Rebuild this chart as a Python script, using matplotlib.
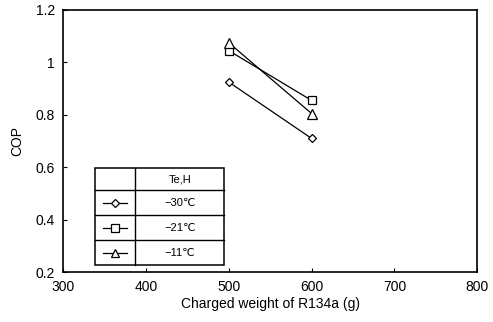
import matplotlib
matplotlib.use("Agg")
import matplotlib.pyplot as plt
from matplotlib.lines import Line2D
from matplotlib.patches import Rectangle

plt.rcParams['font.family'] = ['Liberation Sans', 'DejaVu Sans']

### charged refrigerant mass and measured COP
charge = [500, 600]
cop_m30 = [0.925, 0.71]
cop_m21 = [1.045, 0.855]
cop_m11 = [1.075, 0.805]

series_labels = ['\u221230\u2103', '\u221221\u2103', '\u221211\u2103']
series_markers = ['D', 's', '^']
series_sizes = [4.5, 6, 6.5]
x_ticks = [300, 400, 500, 600, 700, 800]
y_ticks = [0.2, 0.4, 0.6, 0.8, 1.0, 1.2]

fig = plt.figure(figsize=(4.93, 3.22), dpi=100)
ax = fig.add_axes([0.128, 0.155, 0.84, 0.814])

for vals, mk, ms in zip([cop_m30, cop_m21, cop_m11], series_markers, series_sizes):
    ax.plot(charge, vals, color='black', lw=0.9, marker=mk, ms=ms,
            markerfacecolor='white', markeredgecolor='black', mew=0.9)

ax.set_xlim(300, 800)
ax.set_ylim(0.2, 1.2)
ax.set_xticks(x_ticks)
ax.set_yticks(y_ticks)
ax.set_yticklabels(['%g' % v for v in y_ticks])
ax.tick_params(direction='in', length=3, width=0.8, labelsize=10, pad=6)
for s in ax.spines.values():
    s.set_linewidth(1.2)
ax.set_xlabel('Charged weight of R134a (g)', fontsize=10, labelpad=2)
ax.set_ylabel('COP', fontsize=10, labelpad=8)

### table-style legend in the lower left
x0, x1, xd = 0.077, 0.389, 0.174
y_rows = [0.397, 0.313, 0.218, 0.122, 0.027]
ax.add_patch(Rectangle((x0, y_rows[-1]), x1 - x0, y_rows[0] - y_rows[-1],
                       transform=ax.transAxes, fill=False, lw=1.1, color='black'))
ax.add_line(Line2D([xd, xd], [y_rows[0], y_rows[-1]], transform=ax.transAxes,
                   color='black', lw=1.0))
for y in y_rows[1:-1]:
    ax.add_line(Line2D([x0, x1], [y, y], transform=ax.transAxes, color='black', lw=1.0))
ax.text((xd + x1) / 2, (y_rows[0] + y_rows[1]) / 2, 'Te,H', transform=ax.transAxes,
        ha='center', va='center', fontsize=8)
for i, (lab, mk, ms) in enumerate(zip(series_labels, series_markers, series_sizes)):
    yc = (y_rows[i + 1] + y_rows[i + 2]) / 2
    ax.add_line(Line2D([x0 + 0.02, xd - 0.02], [yc, yc], transform=ax.transAxes,
                       color='black', lw=0.9))
    ax.add_line(Line2D([(x0 + xd) / 2], [yc], transform=ax.transAxes, marker=mk, ms=ms * 0.85,
                       markerfacecolor='white', markeredgecolor='black', mew=0.9))
    ax.text((xd + x1) / 2, yc, lab, transform=ax.transAxes,
            ha='center', va='center', fontsize=8)

fig.savefig('out.png', dpi=100)
